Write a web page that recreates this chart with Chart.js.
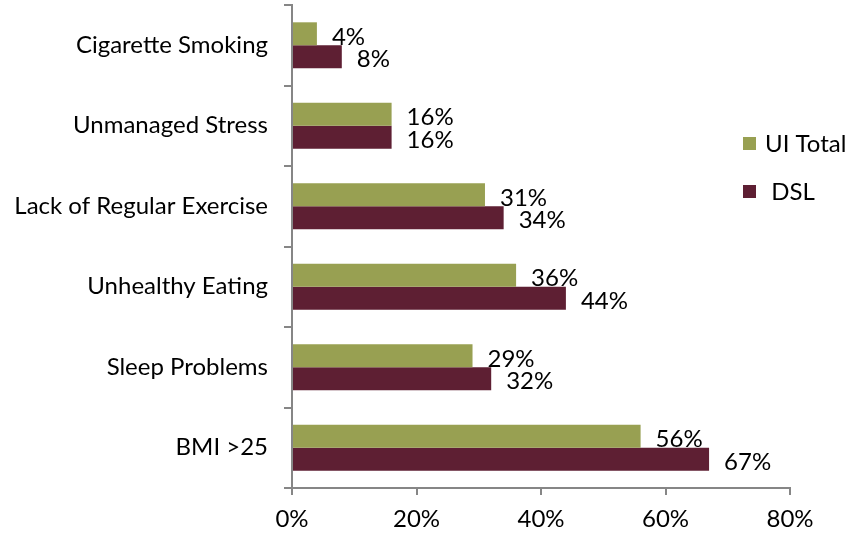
<!DOCTYPE html>
<html>
<head>
<meta charset="utf-8">
<script src="https://cdn.jsdelivr.net/npm/chart.js@4"></script>
<style>
  html, body { margin: 0; padding: 0; background: #fff; }
  #wrap { width: 848px; height: 535px; }
</style>
</head>
<body>
<div id="wrap"><canvas id="barChart" width="848" height="535"></canvas></div>
<script>
// categories and series
const categories = ['Cigarette Smoking', 'Unmanaged Stress', 'Lack of Regular Exercise', 'Unhealthy Eating', 'Sleep Problems', 'BMI >25'];
const uiTotal = [4, 16, 31, 36, 29, 56];
const dsl = [8, 16, 34, 44, 32, 67];
const seriesNames = ['UI Total', 'DSL'];
const legendNames = ['UI Total', ' DSL'];
const xTicks = [0, 20, 40, 60, 80];

const FONT = 'Lato, "Open Sans", sans-serif';
const olive = '#98a052';
const maroon = '#5e1f33';
const axisGrey = '#868686';

// labels to the right of each bar
const valueLabels = {
    id: 'valueLabels',
    afterDatasetsDraw(chart) {
        let ctx = chart.ctx;
        ctx.save();
        ctx.font = '24px ' + FONT;
        ctx.fillStyle = '#000';
        ctx.textAlign = 'left';
        ctx.textBaseline = 'middle';
        chart.data.datasets.forEach((ds, i) => {
            chart.getDatasetMeta(i).data.forEach((bar, j) => {
                ctx.fillText(ds.data[j] + '%', bar.x + 15, bar.y + 3);
            });
        });
        ctx.restore();
    }
};

// legend drawn by hand, to sit where the original one is
const sideLegend = {
    id: 'sideLegend',
    afterDraw(chart) {
        let ctx = chart.ctx;
        ctx.save();
        ctx.font = '24px ' + FONT;
        ctx.textBaseline = 'middle';
        ctx.textAlign = 'left';
        chart.data.datasets.forEach((ds, i) => {
            let y = 144 + i * 48;
            ctx.fillStyle = ds.backgroundColor;
            ctx.fillRect(743, y - 7, 13, 13);
            ctx.fillStyle = '#000';
            ctx.fillText(legendNames[i], 765, y);
        });
        ctx.restore();
    }
};

function loadBarChart() {
    let ctx = document.getElementById('barChart').getContext('2d');
    return new Chart(ctx, {
        type: 'bar',
        data: {
            labels: categories,
            datasets: [
                { label: seriesNames[0], data: uiTotal, backgroundColor: olive, categoryPercentage: 0.57, barPercentage: 1.0 },
                { label: seriesNames[1], data: dsl, backgroundColor: maroon, categoryPercentage: 0.57, barPercentage: 1.0 }
            ]
        },
        options: {
            indexAxis: 'y',
            responsive: false,
            animation: false,
            layout: { padding: { top: 5, right: 58, left: 0, bottom: 0 } },
            plugins: {
                legend: { display: false },
                tooltip: { enabled: false }
            },
            scales: {
                x: {
                    min: 0,
                    max: 80,
                    afterBuildTicks(axis) {
                        axis.ticks = xTicks.map(v => ({ value: v }));
                    },
                    afterFit(axis) { axis.height = 47; },
                    border: { color: axisGrey, width: 2 },
                    grid: { drawOnChartArea: false, drawTicks: true, tickLength: 7, color: axisGrey, lineWidth: 2 },
                    ticks: {
                        padding: 10,
                        color: '#000',
                        font: { family: FONT, size: 24 },
                        callback: v => v + '%'
                    }
                },
                y: {
                    offset: true,
                    afterFit(axis) {
                        axis.width = 292;
                        axis.paddingTop = 0;
                        axis.paddingBottom = 0;
                    },
                    border: { color: axisGrey, width: 2 },
                    grid: { offset: true, drawOnChartArea: false, drawTicks: true, tickLength: 8, color: axisGrey, lineWidth: 2 },
                    ticks: {
                        padding: 16,
                        color: '#000',
                        font: { family: FONT, size: 24 }
                    }
                }
            }
        },
        plugins: [valueLabels, sideLegend]
    });
}

loadBarChart();
</script>
</body>
</html>
